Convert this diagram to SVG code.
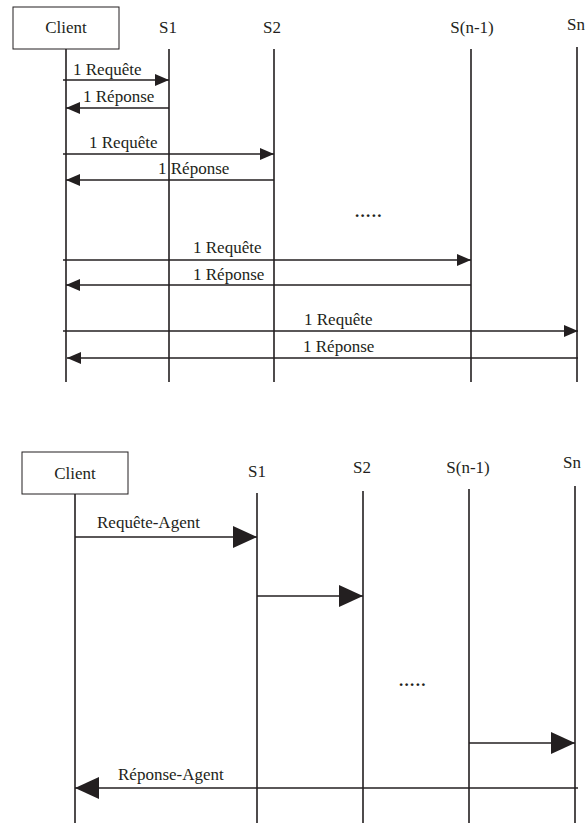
<svg xmlns="http://www.w3.org/2000/svg" width="585" height="825" viewBox="0 0 585 825" font-family="'Liberation Serif', 'Times New Roman', 'DejaVu Serif', serif">
<defs>
<style>
text{font-family:'Liberation Serif','Times New Roman','DejaVu Serif',serif;font-size:17px;fill:#231f20}
.c{text-anchor:middle}
.dots{font-weight:bold;font-size:17px;letter-spacing:1.3px}
.ll{stroke:#231f20;stroke-width:1.6;fill:none}
.box{stroke:#231f20;stroke-width:1;fill:#fff}
.m{stroke:#231f20;stroke-width:1.6;fill:none}
</style>
<marker id="hs" viewBox="0 0 14 12" refX="14" refY="6" markerWidth="14" markerHeight="12" markerUnits="userSpaceOnUse" orient="auto">
<path d="M0,0 L14,6 L0,12 Z" fill="#231f20"/>
</marker>
<marker id="hb" viewBox="0 0 24 22" refX="24" refY="11" markerWidth="24" markerHeight="22" markerUnits="userSpaceOnUse" orient="auto">
<path d="M0,0 L24,11 L0,22 Z" fill="#231f20"/>
</marker>
</defs>
<rect width="585" height="825" fill="#fff"/>

<!-- Top diagram -->
<g id="top-client"><rect class="box" x="13" y="7" width="106" height="42"/><text class="c" x="66" y="33">Client</text><line class="ll" x1="66" y1="49" x2="66" y2="382"/></g>
<g id="top-s1"><text class="c" x="168" y="33">S1</text><line class="ll" x1="169" y1="49" x2="169" y2="382"/></g>
<g id="top-s2"><text class="c" x="272" y="33">S2</text><line class="ll" x1="274" y1="49" x2="274" y2="382"/></g>
<g id="top-sn1"><text class="c" x="472" y="33">S(n-1)</text><line class="ll" x1="471" y1="49" x2="471" y2="382"/></g>
<g id="top-sn"><text class="c" x="576" y="30">Sn</text><line class="ll" x1="577" y1="47" x2="577" y2="382"/></g>
<text class="dots" x="355" y="217">.....</text>

<g id="top-connectors">
<line class="m" x1="63" y1="80" x2="169" y2="80" marker-end="url(#hs)"/>
<line class="m" x1="169" y1="108" x2="66" y2="108" marker-end="url(#hs)"/>
<line class="m" x1="63" y1="154" x2="274" y2="154" marker-end="url(#hs)"/>
<line class="m" x1="274" y1="180" x2="66" y2="180" marker-end="url(#hs)"/>
<line class="m" x1="63" y1="260" x2="471" y2="260" marker-end="url(#hs)"/>
<line class="m" x1="471" y1="285" x2="66" y2="285" marker-end="url(#hs)"/>
<line class="m" x1="63" y1="331" x2="578" y2="331" marker-end="url(#hs)"/>
<line class="m" x1="578" y1="358" x2="67" y2="358" marker-end="url(#hs)"/>
<text x="73" y="75">1 Requête</text>
<text x="83" y="102">1 Réponse</text>
<text x="89" y="148">1 Requête</text>
<text x="158" y="174">1 Réponse</text>
<text x="193" y="253">1 Requête</text>
<text x="193" y="280">1 Réponse</text>
<text x="304" y="325">1 Requête</text>
<text x="303" y="352">1 Réponse</text>
</g>

<!-- Bottom diagram -->
<g id="bot-client"><rect class="box" x="22" y="452" width="106" height="42"/><text class="c" x="75" y="479">Client</text><line class="ll" x1="75" y1="494" x2="75" y2="823"/></g>
<g id="bot-s1"><text class="c" x="257" y="477">S1</text><line class="ll" x1="257" y1="493" x2="257" y2="823"/></g>
<g id="bot-s2"><text class="c" x="362" y="473">S2</text><line class="ll" x1="363" y1="491" x2="363" y2="823"/></g>
<g id="bot-sn1"><text class="c" x="468" y="473">S(n-1)</text><line class="ll" x1="469" y1="489" x2="469" y2="823"/></g>
<g id="bot-sn"><text class="c" x="572" y="468">Sn</text><line class="ll" x1="575" y1="486" x2="575" y2="823"/></g>
<text class="dots" x="399" y="686">.....</text>

<g id="bot-connectors">
<line class="m" x1="75" y1="537" x2="257" y2="537" marker-end="url(#hb)"/>
<line class="m" x1="257" y1="596" x2="363" y2="596" marker-end="url(#hb)"/>
<line class="m" x1="469" y1="743" x2="575" y2="743" marker-end="url(#hb)"/>
<line class="m" x1="578" y1="788" x2="75" y2="788" marker-end="url(#hb)"/>
<text x="97" y="528">Requête-Agent</text>
<text x="118" y="780">Réponse-Agent</text>
</g>
</svg>
